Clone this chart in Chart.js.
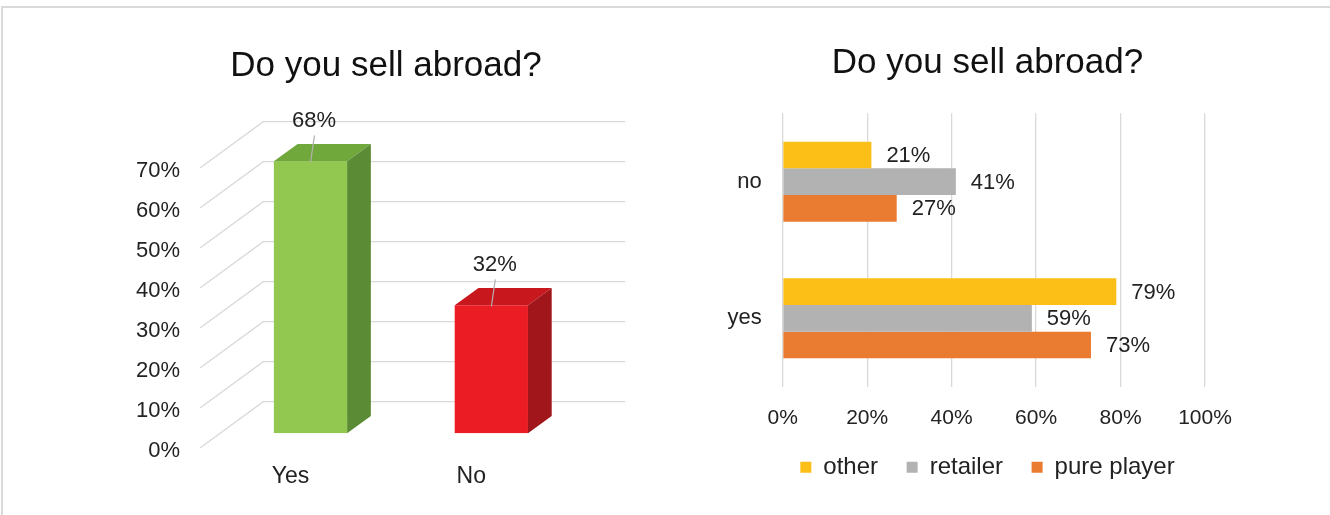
<!DOCTYPE html>
<html>
<head>
<meta charset="utf-8">
<title>Do you sell abroad?</title>
<script src="https://cdn.jsdelivr.net/npm/chart.js@4.4.0/dist/chart.umd.min.js"></script>
<style>
    html, body { margin: 0; padding: 0; background: #fff; }
    body { width: 1330px; height: 515px; position: relative; overflow: hidden; }
    #frame { position: absolute; left: 1px; top: 6px; width: 1340px; height: 520px;
             border-top: 2px solid #d9d9d9; border-left: 2px solid #d9d9d9; }
    #totalChart { position: absolute; left: 0; top: 0; }
    #splitChart { position: absolute; left: 662px; top: 0; }
</style>
</head>
<body>
<div id="frame"></div>
<canvas id="totalChart" width="772" height="515"></canvas>
<canvas id="splitChart" width="651" height="515"></canvas>

<script type="text/javascript">
// answers, all respondents
var totalLabels = ['Yes', 'No'];
var totalValues = [68, 32];

// answers split by type of seller
var splitLabels = ['no', 'yes'];
var otherValues = [21, 79];
var retailerValues = [41, 59];
var purePlayerValues = [27, 73];

// bar faces: front / top / side
var frontColors = ['#92c850', '#ec1c24'];
var topColors = ['#70a83c', '#c9171e'];
var sideColors = ['#5b8c35', '#a1161b'];

var TEXT = '#222222';
var GRID = '#d9d9d9';
var FONT = '"Liberation Sans", Arial, sans-serif';
Chart.defaults.font.family = FONT;
Chart.defaults.color = TEXT;

// depth of the floor and of the bars (oblique projection)
var DEPTH_X = 63.3, DEPTH_Y = 46.3;
var BAR_FRONT = 0.317, BAR_DEPTH = 0.375;

var box3d = {
    id: 'box3d',
    beforeDatasetsDraw: function(chart) {
        var ctx = chart.ctx, y = chart.scales.y, area = chart.chartArea;
        ctx.save();
        ctx.strokeStyle = GRID;
        ctx.lineWidth = 1.3;
        y.ticks.forEach(function(t) {
            var py = y.getPixelForValue(t.value);
            ctx.beginPath();
            ctx.moveTo(area.left, py);
            ctx.lineTo(area.left + DEPTH_X, py - DEPTH_Y);
            ctx.lineTo(area.right + DEPTH_X, py - DEPTH_Y);
            ctx.stroke();
        });
        ctx.restore();
        // bars stand in the middle of the floor
        ctx.save();
        ctx.translate(DEPTH_X * BAR_FRONT, -DEPTH_Y * BAR_FRONT);
    },
    afterDatasetsDraw: function(chart) {
        var ctx = chart.ctx;
        var dx = DEPTH_X * BAR_DEPTH, dy = DEPTH_Y * BAR_DEPTH;
        var values = chart.data.datasets[0].data;
        chart.getDatasetMeta(0).data.forEach(function(el, i) {
            var b = el.getProps(['x', 'y', 'base', 'width'], true);
            var l = b.x - b.width / 2, r = b.x + b.width / 2;
            ctx.fillStyle = topColors[i];
            ctx.beginPath();
            ctx.moveTo(l, b.y); ctx.lineTo(r, b.y);
            ctx.lineTo(r + dx, b.y - dy); ctx.lineTo(l + dx, b.y - dy);
            ctx.closePath(); ctx.fill();
            ctx.fillStyle = sideColors[i];
            ctx.beginPath();
            ctx.moveTo(r, b.y); ctx.lineTo(r + dx, b.y - dy);
            ctx.lineTo(r + dx, b.base - dy); ctx.lineTo(r, b.base);
            ctx.closePath(); ctx.fill();

            // value label with a short leader line
            ctx.strokeStyle = '#b0b0b0';
            ctx.lineWidth = 1.2;
            ctx.beginPath();
            ctx.moveTo(b.x + 4, b.y - 26);
            ctx.lineTo(b.x, b.y + 1);
            ctx.stroke();
            ctx.fillStyle = TEXT;
            ctx.font = '22px ' + FONT;
            ctx.textAlign = 'center';
            ctx.textBaseline = 'middle';
            ctx.fillText(values[i] + '%', b.x + 3.5, b.y - 40);
        });
        ctx.restore();
    }
};

var valueLabels = {
    id: 'valueLabels',
    afterDatasetsDraw: function(chart) {
        var ctx = chart.ctx;
        ctx.save();
        ctx.fillStyle = TEXT;
        ctx.font = '22px ' + FONT;
        ctx.textAlign = 'left';
        ctx.textBaseline = 'middle';
        chart.data.datasets.forEach(function(ds, di) {
            chart.getDatasetMeta(di).data.forEach(function(el, i) {
                var b = el.getProps(['x', 'y'], true);
                ctx.fillText(ds.data[i] + '%', b.x + 15, b.y + 1);
            });
        });
        ctx.restore();
    }
};

var titleOpts = function(top, bottom) {
    return {
        display: true,
        text: 'Do you sell abroad?',
        color: '#111111',
        font: { size: 35, weight: 'normal' },
        padding: { top: top, bottom: bottom }
    };
};

// empty axis on the right, only keeps room beside the plot
var spacer = function(w) {
    return {
        position: 'right',
        grid: { display: false },
        border: { display: false },
        ticks: { display: false },
        afterFit: function(s) { s.width = w; }
    };
};

new Chart(document.getElementById('totalChart'), {
    type: 'bar',
    data: {
        labels: totalLabels,
        datasets: [{
            data: totalValues,
            backgroundColor: frontColors,
            barPercentage: 0.405,
            categoryPercentage: 1
        }]
    },
    options: {
        responsive: false,
        animation: false,
        layout: { padding: 0 },
        plugins: {
            legend: { display: false },
            tooltip: { enabled: false },
            title: titleOpts(45, 81)
        },
        scales: {
            x: {
                grid: { display: false },
                border: { display: false },
                ticks: { font: { size: 23 }, padding: 7 },
                afterFit: function(s) { s.height = 67; }
            },
            y: {
                min: 0,
                max: 70,
                grid: { display: false },
                border: { display: false },
                ticks: {
                    stepSize: 10,
                    padding: 12,
                    labelOffset: 3,
                    font: { size: 22 },
                    callback: function(v) { return v + '%'; }
                },
                afterFit: function(s) { s.width = 200; }
            },
            side: spacer(210.3)
        }
    },
    plugins: [box3d]
});

new Chart(document.getElementById('splitChart'), {
    type: 'bar',
    data: {
        labels: splitLabels,
        datasets: [
            { label: 'other', data: otherValues, backgroundColor: '#fcbf17' },
            { label: 'retailer', data: retailerValues, backgroundColor: '#b2b2b2' },
            { label: 'pure player', data: purePlayerValues, backgroundColor: '#ea7c31' }
        ]
    },
    options: {
        indexAxis: 'y',
        responsive: false,
        animation: false,
        datasets: { bar: { barPercentage: 1, categoryPercentage: 0.585 } },
        layout: { padding: { left: 0, right: 0, top: 0, bottom: 25.7 } },
        plugins: {
            tooltip: { enabled: false },
            title: titleOpts(42.5, 28.8),
            legend: {
                position: 'bottom',
                labels: {
                    boxWidth: 11,
                    boxHeight: 11,
                    padding: 28.6,
                    font: { size: 24 }
                }
            }
        },
        scales: {
            x: {
                min: 0,
                max: 100,
                grid: { color: GRID, lineWidth: 1.3, drawTicks: false },
                border: { display: false },
                ticks: {
                    stepSize: 20,
                    padding: 19,
                    font: { size: 21 },
                    callback: function(v) { return v + '%'; }
                },
                afterFit: function(s) { s.height = 40; }
            },
            y: {
                grid: { display: false },
                border: { display: false },
                ticks: { padding: 13, font: { size: 22 } },
                afterFit: function(s) { s.width = 120.7; }
            },
            side: spacer(108)
        }
    },
    plugins: [valueLabels]
});
</script>
</body>
</html>
